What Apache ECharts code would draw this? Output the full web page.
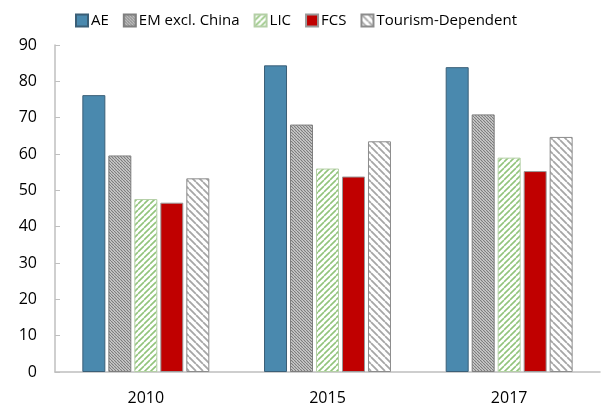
<!DOCTYPE html>
<html>
<head>
<meta charset="utf-8">
<script src="https://cdn.jsdelivr.net/npm/echarts@6/dist/echarts.min.js"></script>
<style>
  html, body { margin: 0; padding: 0; background: #fff; }
  #chart { width: 601px; height: 408px; }
</style>
</head>
<body>
<div id="chart"></div>
<script>
const years = ["2010", "2015", "2017"];
const seriesNames = ["AE", "EM excl. China", "LIC", "FCS", "Tourism-Dependent"];
const ae = [76.2, 84.4, 83.9];
const emExChina = [59.6, 68.1, 70.9];
const lic = [47.6, 56.0, 59.0];
const fcs = [46.6, 53.8, 55.3];
const tourism = [53.3, 63.5, 64.7];

// striped fill patterns drawn on small canvases
function stripes(size, color, width, dir, bg) {
  const c = document.createElement("canvas");
  c.width = size;
  c.height = size;
  const ctx = c.getContext("2d");
  ctx.fillStyle = bg;
  ctx.fillRect(0, 0, size, size);
  ctx.strokeStyle = color;
  ctx.lineWidth = width;
  ctx.beginPath();
  for (let k = -1; k <= 1; k++) {
    if (dir > 0) {
      ctx.moveTo(k * size, size);
      ctx.lineTo(k * size + size, 0);
    } else {
      ctx.moveTo(k * size, 0);
      ctx.lineTo(k * size + size, size);
    }
  }
  ctx.stroke();
  return { image: c, repeat: "repeat" };
}

const emFill = stripes(3, "#7a7a7a", 1.2, -1, "#d8d8d8");
const licFill = stripes(6, "#92c47c", 1.6, 1, "#ffffff");
const tourismFill = stripes(7, "#a6a6a6", 1.8, -1, "#ffffff");

const fills = [
  { color: "#4a89ae", borderColor: "#3b5f77" },
  { color: emFill, borderColor: "#7f7f7f" },
  { color: licFill, borderColor: "#b4cfa6" },
  { color: "#c00000", borderColor: "#9a9a9a" },
  { color: tourismFill, borderColor: "#8c8c8c" },
];
const values = [ae, emExChina, lic, fcs, tourism];

const chart = echarts.init(document.getElementById("chart"));

chart.setOption({
  animation: false,
  textStyle: { fontFamily: "Open Sans", color: "#000" },
  legend: {
    top: 8,
    left: 70,
    icon: "rect",
    itemWidth: 12,
    itemHeight: 12,
    itemGap: 14,
    textStyle: { fontSize: 15, color: "#000", padding: [0, 0, 0, -2] },
    data: seriesNames,
  },
  grid: {
    top: 45,
    left: 55,
    right: 1,
    bottom: 36,
  },
  xAxis: {
    type: "category",
    data: years,
    axisLine: { lineStyle: { color: "#bfbfbf", width: 1.5 } },
    axisTick: { inside: true, length: 5, lineStyle: { color: "#bfbfbf" } },
    axisLabel: { fontSize: 16, color: "#000", margin: 18 },
  },
  yAxis: {
    type: "value",
    min: 0,
    max: 90,
    interval: 10,
    axisLine: { show: true, lineStyle: { color: "#bfbfbf", width: 1.5 } },
    axisTick: { show: true, inside: true, length: 5, lineStyle: { color: "#bfbfbf" } },
    axisLabel: { fontSize: 16, color: "#000", margin: 18 },
    splitLine: { show: false },
  },
  series: seriesNames.map((name, i) => ({
    name,
    type: "bar",
    data: values[i],
    barWidth: 23,
    barGap: "13%",
    itemStyle: {
      color: fills[i].color,
      borderColor: fills[i].borderColor,
      borderWidth: 1,
    },
  })),
});
</script>
</body>
</html>
